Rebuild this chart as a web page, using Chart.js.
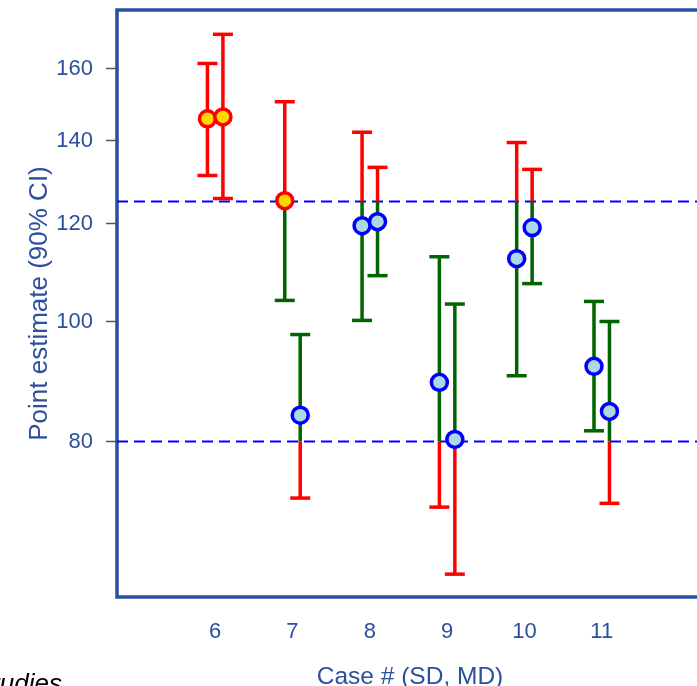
<!DOCTYPE html>
<html>
<head>
<meta charset="utf-8">
<script src="https://cdn.jsdelivr.net/npm/chart.js@4"></script>
<style>
  html, body { margin: 0; padding: 0; overflow: hidden; background: #fff; }
  #wrap { width: 720px; height: 700px; }
</style>
</head>
<body>
<div id="wrap"><canvas id="ciChart" width="720" height="700"></canvas></div>
<script>
// Case numbers and the two estimates per case (SD left, MD right)
const cases = [6, 7, 8, 9, 10, 11];
const sdEst  = [145.8, 125.2, 119.5, 89.3, 112.4, 92.0];
const sdLow  = [131.2, 104.0, 100.2, 70.8, 90.4, 81.6];
const sdHigh = [161.6, 150.5, 142.2, 112.8, 139.5, 103.8];
const mdEst  = [146.3, 84.0, 120.4, 80.3, 119.1, 84.6];
const mdLow  = [125.7, 72.0, 108.9, 62.5, 107.3, 71.3];
const mdHigh = [170.6, 97.6, 133.2, 103.3, 132.7, 100.0];
const yTicks = [80, 100, 120, 140, 160];
const limits = [80, 125];
const pairOffset = 0.1;

const X_MIN = 4.73, X_MAX = 12.31;
const Y_MIN = 59.9, Y_MAX = 178.5;

const RED = '#ff0000';
const GREEN = '#006400';
const TEXT = '#2c4f9e';
const FRAME = '#2a4ea2';
const FONT = '"Liberation Sans", Arial, sans-serif';

const redBars = [], greenBars = [];
const caps = [], capColors = [];
const points = [], pointFill = [], pointLine = [];

function outside(v) { return v < limits[0] || v > limits[1]; }

function addBar(x, lo, hi, est) {
    const cuts = [lo, ...limits.filter(c => c > lo && c < hi), hi];
    for (let i = 0; i < cuts.length - 1; i++) {
        const mid = Math.sqrt(cuts[i] * cuts[i + 1]);
        const target = outside(mid) ? redBars : greenBars;
        target.push({ x, y: cuts[i] }, { x, y: cuts[i + 1] }, { x, y: null });
    }
    caps.push({ x, y: lo }, { x, y: hi });
    capColors.push(lo < limits[0] || lo >= limits[1] ? RED : GREEN);
    capColors.push(hi > limits[1] || hi <= limits[0] ? RED : GREEN);

    points.push({ x, y: est });
    const high = est > limits[1];
    pointFill.push(high ? '#ffd700' : '#add8e6');
    pointLine.push(high ? RED : '#0000ff');
}

cases.forEach((c, i) => {
    addBar(c - pairOffset, sdLow[i], sdHigh[i], sdEst[i]);
    addBar(c + pairOffset, mdLow[i], mdHigh[i], mdEst[i]);
});

const refLines = [];
limits.forEach(v => refLines.push({ x: X_MIN, y: v }, { x: X_MAX, y: v }, { x: X_MAX, y: null }));

const frame = {
    id: 'frame',
    beforeDatasetsDraw(chart) {
        const { ctx, chartArea: a } = chart;
        ctx.save();
        ctx.strokeStyle = FRAME;
        ctx.lineWidth = 3.5;
        ctx.strokeRect(a.left, a.top, a.right - a.left, a.bottom - a.top);
        ctx.restore();
    },
    afterDraw(chart) {
        // cut-off caption in the lower left corner
        const ctx = chart.ctx;
        ctx.save();
        ctx.font = 'italic 26px ' + FONT;
        ctx.fillStyle = '#000';
        ctx.textAlign = 'right';
        ctx.fillText('Studies', 62, 692);
        ctx.restore();
    }
};

new Chart(document.getElementById('ciChart'), {
    type: 'scatter',
    data: {
        datasets: [
            {
                type: 'scatter', data: points, order: 0,
                pointRadius: 8, borderWidth: 3.5,
                backgroundColor: pointFill, borderColor: pointLine
            },
            {
                type: 'scatter', data: caps, order: 1,
                pointStyle: 'line', pointRadius: 10, borderWidth: 3.5,
                borderColor: capColors, backgroundColor: capColors
            },
            {
                type: 'line', data: redBars, order: 2, showLine: true, spanGaps: false,
                borderColor: RED, borderWidth: 3.5, pointRadius: 0, borderCapStyle: 'butt'
            },
            {
                type: 'line', data: greenBars, order: 2, showLine: true, spanGaps: false,
                borderColor: GREEN, borderWidth: 3.5, pointRadius: 0, borderCapStyle: 'butt'
            },
            {
                type: 'line', data: refLines, order: 3, showLine: true, spanGaps: false,
                borderColor: '#0000ff', borderWidth: 2, borderDash: [11, 6], pointRadius: 0
            }
        ]
    },
    options: {
        responsive: false,
        animation: false,
        events: [],
        layout: { autoPadding: false, padding: { left: 0, right: 17, top: 10, bottom: 0 } },
        plugins: { legend: { display: false }, tooltip: { enabled: false } },
        scales: {
            x: {
                type: 'linear', min: X_MIN, max: X_MAX,
                afterBuildTicks: s => { s.ticks = cases.map(v => ({ value: v })); },
                afterFit: s => { s.height = 103; s.paddingLeft = 0; s.paddingRight = 0; },
                grid: { display: false, drawTicks: false },
                border: { display: false },
                ticks: { color: TEXT, font: { family: FONT, size: 22 }, padding: 22, callback: v => String(v) },
                title: { display: true, text: 'Case # (SD, MD)', color: TEXT, font: { family: FONT, size: 24.5 }, padding: { top: 0, bottom: 8 } }
            },
            y: {
                type: 'logarithmic', min: Y_MIN, max: Y_MAX,
                afterBuildTicks: s => { s.ticks = yTicks.map(v => ({ value: v })); },
                afterFit: s => { s.width = 117; s.paddingTop = 0; s.paddingBottom = 0; },
                grid: { drawOnChartArea: false, drawTicks: true, tickLength: 11, tickColor: '#555', tickWidth: 1.5 },
                border: { display: false },
                ticks: { color: TEXT, font: { family: FONT, size: 22 }, padding: 13, callback: v => String(v) },
                title: { display: true, text: 'Point estimate (90% CI)', color: TEXT, font: { family: FONT, size: 26 }, padding: { top: 24, bottom: 0 } }
            }
        }
    },
    plugins: [frame]
});
</script>
</body>
</html>
